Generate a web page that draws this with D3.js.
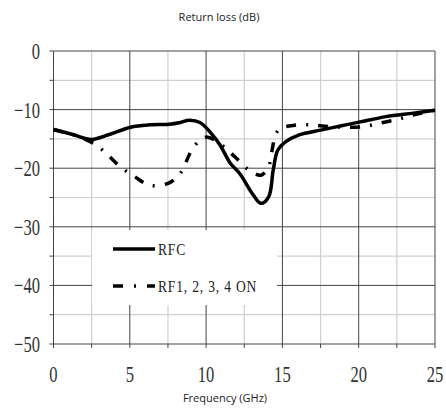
<!DOCTYPE html>
<html>
<head>
<meta charset="utf-8">
<script src="https://cdn.jsdelivr.net/npm/d3@7"></script>
<style>
  body { margin: 0; background: #fff; }
  .tick-label { font-family: "Liberation Serif", serif; font-size: 23px; fill: #333; }
  .legend-text { font-family: "Liberation Serif", serif; font-size: 17px; fill: #222; letter-spacing: 1px; }
  .axis-title { font-family: "Open Sans", sans-serif; font-size: 11px; fill: #222; }
</style>
</head>
<body>
<svg id="chart"></svg>
<script>
const width = 446;
const height = 415;

// Data
const rfcFreq = [0, 1.2, 2.5, 3.7, 5.05, 6.3, 7.6, 8.3, 8.9, 9.6, 10.25, 10.9, 11.6, 12.2, 13.1, 13.6, 14.1, 14.4, 14.7, 15.2, 16.1, 17.5, 18.8, 20.1, 21.8, 23.6, 25];
const rfcLoss = [-13.4, -14.2, -15.1, -14.2, -13.0, -12.6, -12.5, -12.2, -11.8, -12.2, -13.8, -16.0, -19.2, -20.9, -24.6, -26.0, -24.9, -20.3, -16.9, -15.5, -14.3, -13.5, -12.8, -12.1, -11.2, -10.6, -10.1];

const onFreq = [0, 1.5, 2.7, 3.5, 4.35, 5.3, 6.3, 7.5, 8.3, 9.0, 9.6, 10.1, 11.0, 11.9, 12.75, 13.6, 14.1, 14.3, 14.6, 14.9, 15.7, 16.8, 18.0, 19.1, 20.3, 21.4, 22.5, 23.6, 25];
const onLoss = [-13.4, -14.5, -15.9, -17.6, -19.7, -21.4, -22.9, -22.6, -20.9, -17.2, -15.2, -14.7, -16.0, -18.1, -20.2, -21.2, -19.7, -17.2, -14.0, -13.2, -12.7, -12.6, -12.9, -13.0, -12.9, -12.3, -11.7, -10.9, -10.1];

const seriesNames = ["RFC", "RF1, 2, 3, 4 ON"];
const xTicks = [0, 5, 10, 15, 20, 25];
const yTicks = [0, -10, -20, -30, -40, -50];

const margin = { left: 53.5, right: 11, top: 51, bottom: 71 };

const svg = d3.select("#chart")
  .attr("width", width)
  .attr("height", height);

const x = d3.scaleLinear().domain([0, 25]).range([margin.left, width - margin.right]);
const y = d3.scaleLinear().domain([-50, 0]).range([height - margin.bottom, margin.top]);

const minorX = d3.range(2.5, 25, 5);
const minorY = d3.range(-45, 0, 10);

// minor grid
svg.append("g").selectAll("line")
  .data(minorX).enter().append("line")
  .attr("x1", d => x(d)).attr("x2", d => x(d))
  .attr("y1", y(0)).attr("y2", y(-50))
  .attr("stroke", "#cfcfcf").attr("stroke-width", 1.2);
svg.append("g").selectAll("line")
  .data(minorY).enter().append("line")
  .attr("x1", x(0)).attr("x2", x(25))
  .attr("y1", d => y(d)).attr("y2", d => y(d))
  .attr("stroke", "#cfcfcf").attr("stroke-width", 1.2);

// major grid
svg.append("g").selectAll("line")
  .data(xTicks).enter().append("line")
  .attr("x1", d => x(d)).attr("x2", d => x(d))
  .attr("y1", y(0)).attr("y2", y(-50))
  .attr("stroke", "#444").attr("stroke-width", 1);
svg.append("g").selectAll("line")
  .data(yTicks).enter().append("line")
  .attr("x1", x(0)).attr("x2", x(25))
  .attr("y1", d => y(d)).attr("y2", d => y(d))
  .attr("stroke", "#444").attr("stroke-width", 1);

// small outward ticks
svg.append("g").selectAll("line")
  .data(d3.range(0, 25.1, 2.5)).enter().append("line")
  .attr("x1", d => x(d)).attr("x2", d => x(d))
  .attr("y1", y(-50)).attr("y2", y(-50) + 4)
  .attr("stroke", "#444");
svg.append("g").selectAll("line")
  .data(d3.range(-50, 0.1, 5)).enter().append("line")
  .attr("x1", x(0) - 4).attr("x2", x(0))
  .attr("y1", d => y(d)).attr("y2", d => y(d))
  .attr("stroke", "#444");

// legend background covers the grid
svg.append("rect")
  .attr("x", 92).attr("y", 230)
  .attr("width", 185).attr("height", 75)
  .attr("fill", "#fff");

// tick labels (tall narrow serif digits)
svg.append("g").selectAll("text")
  .data(yTicks).enter().append("text")
  .attr("class", "tick-label")
  .attr("text-anchor", "end")
  .attr("transform", d => `translate(40, ${y(d) + 8}) scale(0.72, 1)`)
  .text(d => d === 0 ? "0" : "\u2212" + Math.abs(d));

svg.append("g").selectAll("text")
  .data(xTicks).enter().append("text")
  .attr("class", "tick-label")
  .attr("text-anchor", "middle")
  .attr("transform", d => `translate(${x(d)}, ${y(-50) + 38}) scale(0.72, 1)`)
  .text(d => d);

// curves
const line = d3.line()
  .x(d => x(d[0]))
  .y(d => y(d[1]))
  .curve(d3.curveCatmullRom.alpha(0.5));

svg.append("path")
  .datum(d3.zip(onFreq, onLoss))
  .attr("d", line)
  .attr("fill", "none")
  .attr("stroke", "#000")
  .attr("stroke-width", 3.5)
  .attr("stroke-dasharray", "10,10,2,10");

svg.append("path")
  .datum(d3.zip(rfcFreq, rfcLoss))
  .attr("d", line)
  .attr("fill", "none")
  .attr("stroke", "#000")
  .attr("stroke-width", 3.5);

// legend
const legend = svg.append("g");
legend.append("line")
  .attr("x1", 113).attr("x2", 155)
  .attr("y1", 249).attr("y2", 249)
  .attr("stroke", "#000").attr("stroke-width", 3.5);
legend.append("text")
  .attr("class", "legend-text")
  .attr("transform", "translate(158, 255) scale(0.8, 1)")
  .text(seriesNames[0]);
legend.append("line")
  .attr("x1", 113).attr("x2", 155)
  .attr("y1", 286).attr("y2", 286)
  .attr("stroke", "#000").attr("stroke-width", 3.5)
  .attr("stroke-dasharray", "10,11,2,11");
legend.append("text")
  .attr("class", "legend-text")
  .attr("transform", "translate(158, 292) scale(0.8, 1)")
  .text(seriesNames[1]);

// titles
svg.append("text")
  .attr("class", "axis-title")
  .attr("x", 219).attr("y", 21)
  .attr("text-anchor", "middle")
  .text("Return loss (dB)");
svg.append("text")
  .attr("class", "axis-title")
  .attr("x", 225).attr("y", 402)
  .attr("text-anchor", "middle")
  .text("Frequency (GHz)");
</script>
</body>
</html>
